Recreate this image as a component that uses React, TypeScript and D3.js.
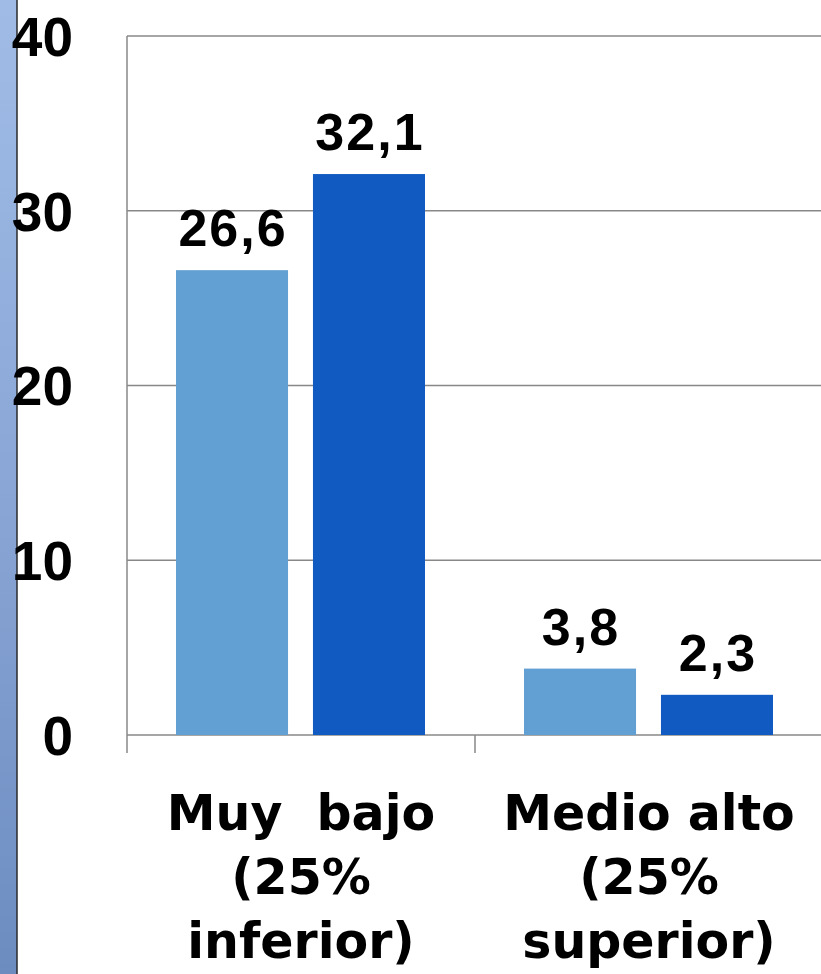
import React from "react";
import * as d3 from "d3";

const categories = ["Muy  bajo|(25%|inferior)", "Medio alto|(25%|superior)"];
const seriesA = [26.6, 3.8];
const seriesB = [32.1, 2.3];
const yTicks = [0, 10, 20, 30, 40];

const W = 821, H = 974;
const NUMFONT = "'Liberation Sans', Arial, sans-serif";
const CATFONT = "'DejaVu Sans', Verdana, sans-serif";

export default function App() {
  const x0 = 127, yTop = 36, yBot = 735;
  const y = d3.scaleLinear().domain([0, 40]).range([yBot, yTop]);
  const xBand = d3.scaleBand<number>().domain([0, 1]).range([x0, x0 + 696]).paddingInner(0).paddingOuter(0);
  const bw = xBand.bandwidth();
  const inner = d3.scaleBand<string>().domain(["A", "B"]).range([49, 298]).paddingInner(0.182);
  const fmt = (v: number) => v.toFixed(1).replace(".", ",");
  const series = [
    { key: "A", vals: seriesA, color: "#629FD2" },
    { key: "B", vals: seriesB, color: "#115AC2" },
  ];
  return (
    <svg width={W} height={H} style={{ position: "absolute", left: 0, top: 0 }}>
      <defs>
        <linearGradient id="strip" x1="0" y1="0" x2="0" y2="1">
          <stop offset="0" stopColor="#A0BCE6" />
          <stop offset="0.5" stopColor="#8AA6D6" />
          <stop offset="1" stopColor="#6C8CC0" />
        </linearGradient>
      </defs>
      <rect x={0} y={0} width={W} height={H} fill="#fff" />
      <rect x={0} y={0} width={17} height={H} fill="url(#strip)" />
      <line x1={17} x2={17} y1={0} y2={H} stroke="#2a2a2a" strokeWidth={1.5} />
      {yTicks.map((t) => (
        <line key={t} x1={x0} x2={W} y1={y(t)} y2={y(t)} stroke="#888" strokeWidth={1.5} />
      ))}
      <line x1={x0} x2={x0} y1={yTop} y2={yBot + 18} stroke="#888" strokeWidth={1.5} />
      {[0, 1].map((i) => (
        <line key={i} x1={xBand(i)! + bw} x2={xBand(i)! + bw} y1={yBot} y2={yBot + 18} stroke="#888" strokeWidth={1.5} />
      ))}
      {yTicks.map((t) => (
        <text key={t} x={73} y={y(t)} dy="0.36em" textAnchor="end" fontFamily={NUMFONT} fontWeight="bold" fontSize={55} fill="#000">
          {t}
        </text>
      ))}
      {series.map((s) =>
        s.vals.map((v, i) => {
          const bx = xBand(i)! + inner(s.key)!;
          return (
            <g key={s.key + i}>
              <rect x={bx} y={y(v)} width={inner.bandwidth()} height={yBot - y(v)} fill={s.color} />
              <text x={bx + inner.bandwidth() / 2 + 1} y={y(v) - 24} textAnchor="middle" fontFamily={NUMFONT} fontWeight="bold" fontSize={52} letterSpacing={2} fill="#000">
                {fmt(v)}
              </text>
            </g>
          );
        })
      )}
      {categories.map((c, i) =>
        c.split("|").map((line, j) => (
          <text key={i + "-" + j} x={xBand(i)! + bw / 2} y={830 + j * 64} textAnchor="middle" fontFamily={CATFONT} fontWeight="bold" fontSize={49} fill="#000" style={{ whiteSpace: "pre" }}>
            {line}
          </text>
        ))
      )}
    </svg>
  );
}
